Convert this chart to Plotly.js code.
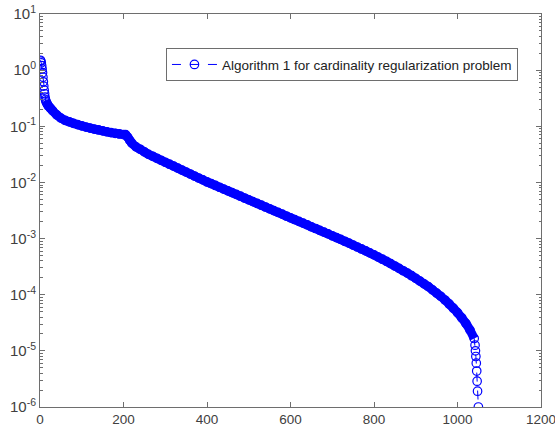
<!DOCTYPE html>
<html>
<head>
<meta charset="utf-8">
<script src="https://cdn.plot.ly/plotly-3.0.1.min.js"></script>
<style>html,body{margin:0;padding:0;background:#fff;}#chart{width:555px;height:432px;}</style>
</head>
<body>
<div id="chart"></div>
<script>
// Iteration number
const iterations = [
  1,2,3,4,5,6,7,8,9,10,11,12,13,14,16,18,20,25,30,40,50,60,70,80,90,100,
  110,120,130,140,150,160,170,180,190,200,205,210,215,220,230,240,250,
  260,270,280,290,300,310,320,330,340,350,360,370,380,390,400,
  410,420,430,440,450,460,470,480,490,500,510,520,530,540,550,560,570,580,590,600,
  610,620,630,640,650,660,670,680,690,700,710,720,730,740,750,760,770,780,790,800,
  810,820,830,840,850,860,870,880,890,900,910,920,930,940,950,960,970,980,990,1000,
  1010,1020,1030,1040,1042,1043,1044,1045,1046,1047,1048,1050
];
// Value at each iteration
const residuals = [
  1.5,1.45,1.35,1.2,1.05,0.9,0.75,0.62,0.52,0.44,0.38,0.33,0.30,0.28,0.26,0.245,0.23,0.21,0.19,0.16,0.14,0.128,0.12,0.113,0.107,0.102,
  0.097,0.093,0.089,0.086,0.083,0.080,0.077,0.075,0.073,0.071,0.071,0.064,0.056,0.050,0.043,0.039,0.035,
  0.0316,0.0292,0.0269,0.0248,0.0229,0.0211,0.0195,0.0180,0.0166,0.0153,0.0141,0.0130,0.0120,0.0111,0.0102,
  0.00951,0.00883,0.00820,0.00762,0.00708,0.00658,0.00611,0.00568,0.00527,0.00490,0.00455,0.00423,0.00393,0.00365,0.00339,0.00315,0.00292,0.00272,0.00252,0.00234,
  0.00218,0.00202,0.00188,0.00175,0.00162,0.00151,0.00140,0.00130,0.00121,0.00112,0.00104,9.66e-4,8.95e-4,8.28e-4,7.66e-4,7.08e-4,6.53e-4,6.03e-4,5.55e-4,5.11e-4,
  4.68e-4,4.29e-4,3.92e-4,3.57e-4,3.25e-4,2.95e-4,2.67e-4,2.42e-4,2.18e-4,1.96e-4,1.75e-4,1.56e-4,1.39e-4,1.22e-4,1.07e-4,9.33e-5,8.04e-5,6.84e-5,5.75e-5,4.79e-5,
  3.89e-5,3.09e-5,2.34e-5,1.66e-5,1.26e-5,1.0e-5,7.94e-6,6.03e-6,4.37e-6,2.88e-6,1.91e-6,1.0e-6
];
const seriesName = 'Algorithm 1 for cardinality regularization problem';
const xTicks = [0,200,400,600,800,1000,1200];
const yTicks = [1e-6,1e-5,1e-4,1e-3,1e-2,1e-1,1,10];
const yTickText = ['10<sup>-6</sup>','10<sup>-5</sup>','10<sup>-4</sup>','10<sup>-3</sup>','10<sup>-2</sup>','10<sup>-1</sup>','10<sup>0</sup>','10<sup>1</sup>'];

const blue = '#0000ff';
// the markers overlap into a solid band where iterations are dense
const denseStart = iterations.indexOf(14);
const denseEnd = iterations.indexOf(1040) + 1;

const band = {
  x: iterations.slice(denseStart, denseEnd),
  y: residuals.slice(denseStart, denseEnd),
  type: 'scatter',
  mode: 'lines',
  showlegend: false,
  hoverinfo: 'skip',
  line: {color: blue, width: 9, shape: 'spline', smoothing: 0.6}
};

const trace = {
  x: iterations,
  y: residuals,
  type: 'scatter',
  mode: 'lines+markers',
  name: seriesName,
  line: {color: blue, width: 1, dash: 'dash'},
  marker: {symbol: 'circle-open', size: 8.5, color: blue, line: {width: 1.2, color: blue}}
};

const axisCommon = {
  showgrid: false,
  zeroline: false,
  showline: true,
  linecolor: '#6e6e6e',
  linewidth: 1,
  mirror: 'ticks',
  ticks: 'inside',
  tickcolor: '#6e6e6e',
  ticklen: 5,
  ticklabeloverflow: 'allow'
};

const layout = {
  width: 555,
  height: 432,
  margin: {l: 40, r: 14, t: 14, b: 25},
  paper_bgcolor: '#ffffff',
  plot_bgcolor: '#ffffff',
  showlegend: true,
  legend: {
    x: 0.954, y: 0.913, xanchor: 'right', yanchor: 'top',
    bordercolor: '#6e6e6e', borderwidth: 1, bgcolor: '#ffffff',
    font: {family: 'Liberation Sans, Arial, sans-serif', size: 13.5, color: '#222'},
    itemwidth: 45,
    tracegroupgap: 0
  },
  xaxis: Object.assign({}, axisCommon, {
    range: [0, 1200],
    tickvals: xTicks,
    ticktext: xTicks.map(String),
    tickfont: {family: 'Liberation Sans, Arial, sans-serif', size: 13.5, color: '#404040'}
  }),
  yaxis: Object.assign({}, axisCommon, {
    type: 'log',
    range: [-6, 1],
    tickvals: yTicks,
    ticktext: yTickText,
    tickfont: {family: 'Liberation Sans, Arial, sans-serif', size: 15, color: '#404040'},
    minor: {dtick: 'D1', ticks: 'inside', ticklen: 2.5, tickcolor: '#6e6e6e', showgrid: false}
  })
};

Plotly.newPlot('chart', [band, trace], layout, {displayModeBar: false, staticPlot: true});
</script>
</body>
</html>
